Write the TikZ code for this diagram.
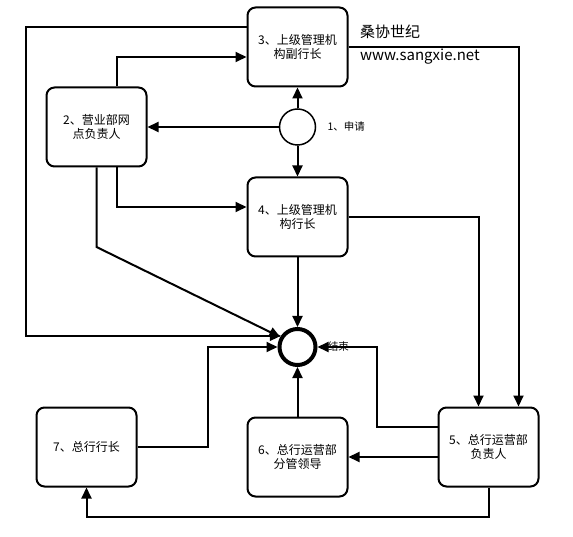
\documentclass[tikz,border=0pt]{standalone}
\usepackage{fontspec}
\setmainfont{Noto Sans CJK SC}
\usetikzlibrary{arrows.meta, shapes, positioning}

\begin{document}
\begin{tikzpicture}[x=1pt,y=-1pt,on grid,line width=2pt,
	>={Triangle[length=11pt,width=10pt]},
	box/.style={draw, line width=2pt, rounded corners=8pt, minimum width=100pt, minimum height=79pt, align=center, inner sep=0pt, font=\fontsize{12}{14.5}\selectfont},
	start/.style={draw, circle, line width=1.5pt, minimum size=36pt, inner sep=0pt},
	stop/.style={draw, circle, line width=4pt, minimum size=36pt, inner sep=0pt},
	note/.style={font=\fontsize{10.5}{12}\selectfont}]
		\useasboundingbox (0,0) rectangle (573,537);
		% top
		\node[box] (n3) at (297.5,47) {3、上级管理机\\构副行长};
		\node[start, below = 80pt of n3, label={[note, label distance=7pt]right:1、申请}] (n1) {};
		\node[box, below = 90pt of n1] (n4) {4、上级管理机\\构行长};
		\node[box, left = 201pt of n1] (n2) {2、营业部网\\点负责人};
		\node[anchor=west, inner sep=0pt, font=\fontsize{15}{18}\selectfont] (brand) at (359,32) {桑协世纪};
		\node[anchor=west, inner sep=0pt, font=\fontsize{15}{18}\selectfont] (site) at (359,57) {www.sangxie.net};
		
		% bottom
		\node[stop, below = 130pt of n4, label={[note, label distance=6pt]right:结束}] (end) {};
		\node[box, below = 110pt of end] (n6) {6、总行运营部\\分管领导};
		\node[box, right = 191pt of n6, yshift=10pt] (n5) {5、总行运营部\\负责人};
		\node[box, left = 211pt of n6, yshift=10pt] (n7) {7、总行行长};
		
		% corners
		\coordinate (c1) at (26,27);
		\coordinate (c2) at (96.5,247);
		\coordinate (c3) at (208,447);
		\coordinate (c4) at (377,427);
		\coordinate (c5) at (488.5,517);
		
		% straight
		\path[->] (n1) edge (n3)
		(n1) edge (n4)
		(n1) edge (n2)
		(n4) edge (end)
		(n6) edge (end)
		([yshift=-10pt]n5.west) edge (n6.east);
		
		% elbows
		\draw[->] ([yshift=20pt]n3.west) -- (c1) |- (end.146);
		\draw[->] ([xshift=20pt]n2.north) |- ([yshift=-10pt]n3.west);
		\draw[->] ([xshift=20pt]n2.south) |- ([yshift=10pt]n4.west);
		\draw[->] (n2.south) -- (c2) -- (end.150);
		\draw[->] (n3.east) -| ([xshift=30pt]n5.north);
		\draw[->] (n4.east) -| ([xshift=-10pt]n5.north);
		\draw[->] (n7.east) -- (c3) |- (end.west);
		\draw[->] ([yshift=20pt]n5.west) -- (c4) |- (end.east);
		\draw[->] (n5.south) -- (c5) -| (n7.south);
\end{tikzpicture}
\end{document}
